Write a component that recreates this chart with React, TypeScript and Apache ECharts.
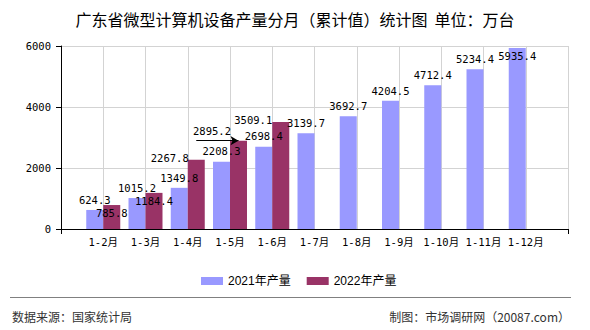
import React, { useEffect, useRef } from "react";
import * as echarts from "echarts";

const months = ["1-2月", "1-3月", "1-4月", "1-5月", "1-6月", "1-7月", "1-8月", "1-9月", "1-10月", "1-11月", "1-12月"];
const output2021 = [624.3, 1015.2, 1349.8, 2208.3, 2698.4, 3139.7, 3692.7, 4204.5, 4712.4, 5234.4, 5935.4];
const output2022 = [785.8, 1184.4, 2267.8, 2895.2, 3509.1];
const seriesNames = ["2021年产量", "2022年产量"];
const colors = ["#9999FF", "#993366"];
const title = "广东省微型计算机设备产量分月（累计值）统计图  单位：万台";
const sourceText = "数据来源：国家统计局";
const makerText = "制图：市场调研网（20087.com）";

// label layout tweaks (style only)
const nudge2022: Record<number, [number, number]> = { 2: [-26.5, -10], 3: [-26.5, -18], 4: [-27.5, -10.3] };
const insideLabels2021 = [10];
// pointer under the moved 2895.2 label (from category index 2 to 3 of 2022 data)
const pointerFrom = 2;
const pointerTo = 3;

const MONO = "'DejaVu Sans Mono', 'Noto Sans CJK SC', monospace";
const CJK = "'Noto Sans CJK SC', sans-serif";

export default function App() {
  const ref = useRef<HTMLDivElement>(null);
  useEffect(() => {
    if (!ref.current) return;
    const chart = echarts.init(ref.current, undefined, { renderer: "svg" });
    const cats = ["", ...months, ""];
    const d2021: any[] = ["-", ...output2021.map((v, i) =>
      insideLabels2021.includes(i)
        ? { value: v, label: { position: "insideTop", distance: 3 } }
        : v
    ), "-"];
    const d2022: any[] = ["-", ...cats.slice(1).map((_, i) =>
      i < output2022.length ? output2022[i] : "-"
    )];
    const labelBase = { show: true, color: "#000", fontSize: 10.5, fontFamily: MONO };
    chart.setOption({
      animation: false,
      title: {
        text: title,
        left: "center",
        top: 6,
        textStyle: { fontSize: 16, fontWeight: "normal", color: "#000", fontFamily: CJK },
      },
      legend: {
        data: seriesNames,
        left: 196,
        top: 270,
        itemWidth: 22,
        itemHeight: 8,
        itemGap: 16,
        icon: "rect",
        textStyle: { fontSize: 12, color: "#000", fontFamily: "'Liberation Sans', 'Noto Sans CJK SC', sans-serif" },
      },
      grid: { left: 61, right: 22, top: 46, bottom: 101, containLabel: false },
      xAxis: {
        type: "category",
        data: cats,
        boundaryGap: false,
        axisLine: { lineStyle: { color: "#000", width: 1 } },
        axisTick: { show: true, length: 5, interval: (i: number) => i === 0 || i === cats.length - 1, lineStyle: { color: "#000" } },
        axisLabel: { interval: 0, color: "#000", fontSize: 10.5, fontFamily: MONO, margin: 8 },
        splitLine: { show: true, lineStyle: { color: "#d3d3d3", width: 1 } },
      },
      yAxis: {
        type: "value",
        min: 0,
        max: 6000,
        interval: 2000,
        axisLine: { show: true, lineStyle: { color: "#000", width: 1 } },
        axisTick: { show: true, length: 5, lineStyle: { color: "#000" } },
        axisLabel: { color: "#000", fontSize: 10.5, fontFamily: MONO, margin: 10, formatter: (v: number) => String(v) },
        splitLine: { show: true, lineStyle: { color: "#d3d3d3", width: 1 } },
      },
      series: [
        {
          name: seriesNames[0],
          type: "bar",
          data: d2021,
          barWidth: 17,
          barGap: "0%",
          itemStyle: { color: colors[0] },
          label: { ...labelBase, position: "top", distance: 5 },
        },
        {
          name: seriesNames[1],
          type: "bar",
          data: d2022,
          barWidth: 17,
          barGap: "0%",
          itemStyle: { color: colors[1] },
          label: { ...labelBase, position: "insideTop", distance: 3 },
          labelLayout: (p: any) => {
            const n = nudge2022[p.dataIndex - 1];
            return n ? { dx: n[0], dy: n[1] } : {};
          },
          markLine: {
            silent: true,
            symbol: ["none", "arrow"],
            symbolSize: [7, 8],
            label: { show: false },
            lineStyle: { color: "#000", width: 1, type: "solid" },
            data: [
              [
                { coord: [months[pointerFrom], output2022[pointerTo]] },
                { coord: [months[pointerTo], output2022[pointerTo]] },
              ],
            ],
          },
        },
      ],
      graphic: [
        { type: "line", shape: { x1: 10, y1: 297.5, x2: 571, y2: 297.5 }, style: { stroke: "#808080", lineWidth: 1 } },
        { type: "text", x: 12, y: 316, style: { text: sourceText, fontSize: 12, fill: "#333", fontFamily: CJK, textVerticalAlign: "middle" } },
        { type: "text", x: 570, y: 316, style: { text: makerText, fontSize: 12, fill: "#333", fontFamily: CJK, textAlign: "right", textVerticalAlign: "middle" } },
      ],
    });
    return () => chart.dispose();
  }, []);
  return <div ref={ref} style={{ position: "absolute", left: 0, top: 0, width: 590, height: 330 }} />;
}
